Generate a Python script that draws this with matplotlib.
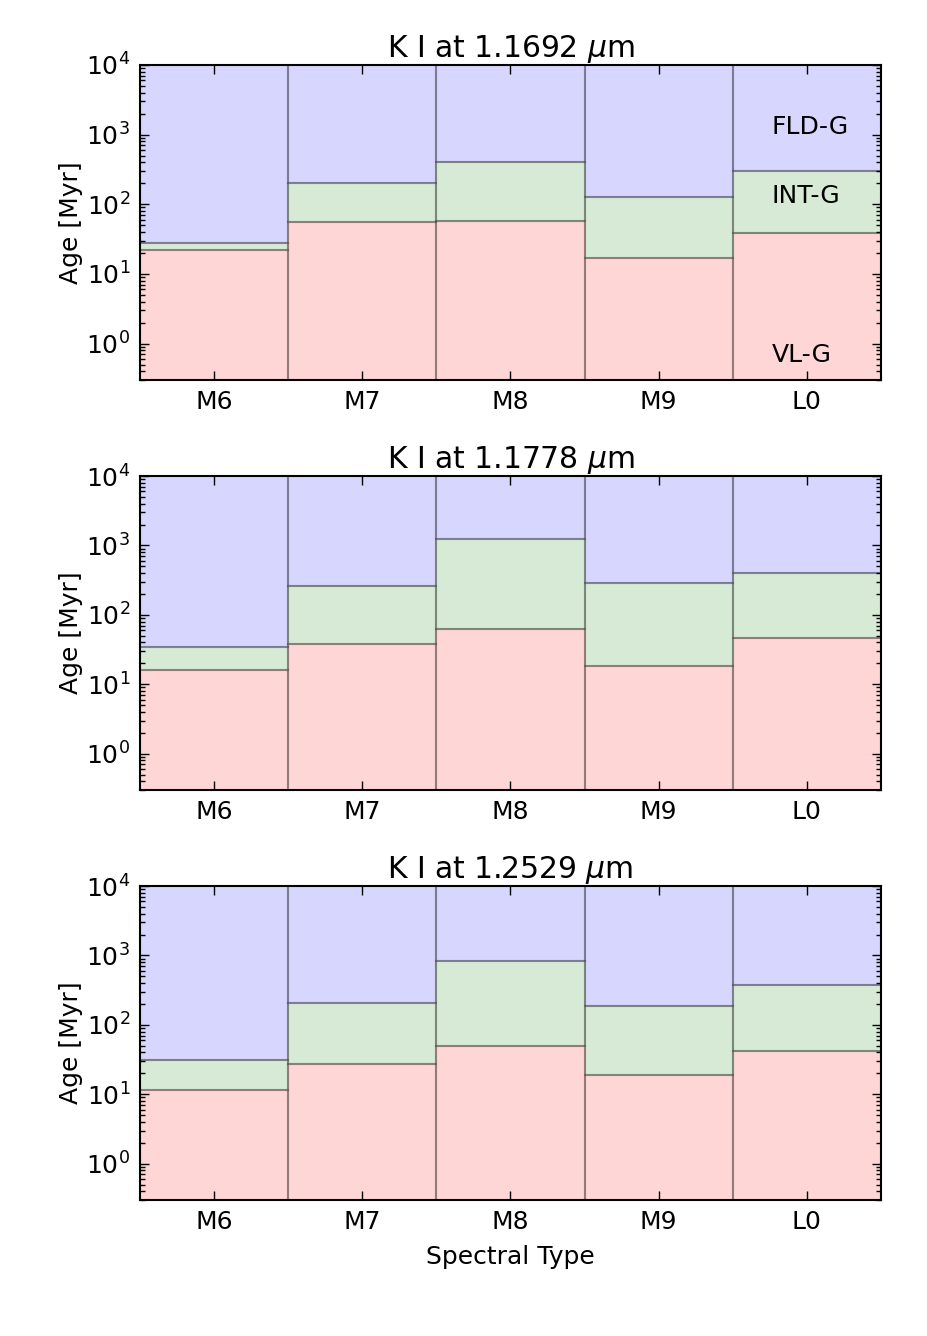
import numpy as np
import matplotlib
matplotlib.use('Agg')
import matplotlib.pyplot as plt

# spectral types and line names
spectral_types = ['M6', 'M7', 'M8', 'M9', 'L0']
line_titles = [r'K I at 1.1692 $\mu$m', r'K I at 1.1778 $\mu$m', r'K I at 1.2529 $\mu$m']

# upper age limit of VL-G and INT-G for each line [Myr]
vlg_1692 = [22.3, 55.3, 57.2, 16.9, 38.1]
intg_1692 = [27.4, 202, 411, 129, 296]
vlg_1778 = [16.2, 38.1, 63, 18.5, 45.9]
intg_1778 = [34.5, 262, 1232, 290, 402]
vlg_2529 = [11.7, 27.1, 50, 19.1, 42]
intg_2529 = [31.6, 208, 821, 189, 377]

vlg_all = [vlg_1692, vlg_1778, vlg_2529]
intg_all = [intg_1692, intg_1778, intg_2529]

age_min = 0.3
age_max = 1e4

plt.rcParams['font.family'] = ['DejaVu Sans']
plt.rcParams['mathtext.fontset'] = 'dejavusans'

fig = plt.figure(figsize=(9.28, 13.36), dpi=100)

# axes boxes in pixels (left, top, right, bottom)
W, H = 928., 1336.
boxes = [(140, 65, 881, 380), (140, 476, 881, 790), (140, 886, 881, 1200)]

x = np.arange(len(spectral_types))
edge = (0, 0, 0, 0.24)

for i, (l, t, r, b) in enumerate(boxes):
    ax = fig.add_axes([l / W, 1 - b / H, (r - l) / W, (b - t) / H])
    vl = np.array(vlg_all[i])
    it = np.array(intg_all[i])
    ax.bar(x, vl - 0.01, bottom=0.01, width=1.0, color='red', alpha=0.16,
           edgecolor='none', zorder=1)
    ax.bar(x, it - vl, bottom=vl, width=1.0, color='green', alpha=0.16,
           edgecolor='none', zorder=1)
    ax.bar(x, age_max * 2 - it, bottom=it, width=1.0, color='blue', alpha=0.16,
           edgecolor='none', zorder=1)
    # outlines
    ax.bar(x, vl - 0.01, bottom=0.01, width=1.0, fill=False, edgecolor=edge,
           linewidth=1.5, zorder=2)
    ax.bar(x, it - vl, bottom=vl, width=1.0, fill=False, edgecolor=edge,
           linewidth=1.5, zorder=2)
    ax.bar(x, age_max * 2 - it, bottom=it, width=1.0, fill=False, edgecolor=edge,
           linewidth=1.5, zorder=2)

    ax.set_yscale('log')
    ax.set_ylim(age_min, age_max)
    ax.set_xlim(-0.5, 4.5)
    ax.set_xticks(x)
    ax.set_xticklabels(spectral_types)
    ax.set_yticks([1, 10, 100, 1000, 10000])
    ax.tick_params(which='both', direction='in', top=True, right=True,
                   labelsize=18, width=1.0, color='black')
    ax.tick_params(which='major', length=6.5, pad=7)
    ax.tick_params(which='minor', length=3.5)
    ax.tick_params(axis='x', which='minor', top=False, bottom=False)
    for s in ax.spines.values():
        s.set_linewidth(1.5)
        s.set_zorder(5)
    ax.set_title(line_titles[i], fontsize=21.5, pad=6)
    ax.set_ylabel('Age [Myr]', fontsize=18, labelpad=2)

    if i == 0:
        ax.text(3.76, 1300, 'FLD-G', fontsize=18, va='center', ha='left', zorder=6)
        ax.text(3.76, 133, 'INT-G', fontsize=18, va='center', ha='left', zorder=6)
        ax.text(3.76, 0.68, 'VL-G', fontsize=18, va='center', ha='left', zorder=6)
    if i == 2:
        ax.set_xlabel('Spectral Type', fontsize=18, labelpad=8)

fig.savefig('out.png', dpi=100)
